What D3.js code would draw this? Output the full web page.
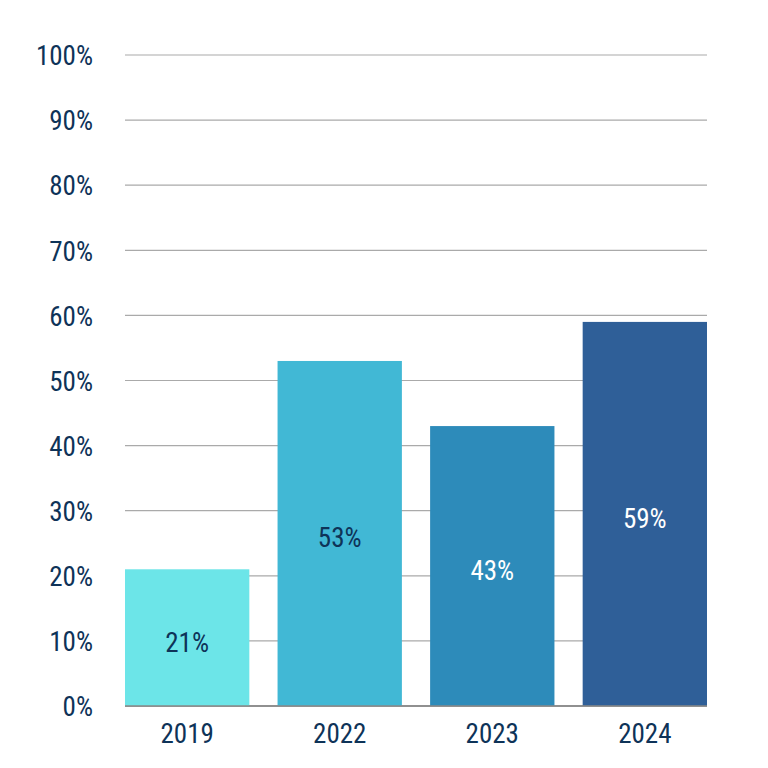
<!DOCTYPE html>
<html><head><meta charset="utf-8">
<script src="https://cdn.jsdelivr.net/npm/d3@7"></script>
<style>body{margin:0;background:#fff}svg{display:block}</style>
</head><body>
<script>
const categories = ["2019","2022","2023","2024"];
const values = [21,53,43,59];
const barColors = ["#6CE5E8","#41B8D5","#2D8BBA","#2F5F98"];
const labelColors = ["#0E3358","#0E3358","#ffffff","#ffffff"];
const yTicks = [0,10,20,30,40,50,60,70,80,90,100];

const W=768,H=768;
const m={left:125,right:61,top:55,bottom:62};
const svg=d3.select("body").append("svg").attr("width",W).attr("height",H);
const x=d3.scaleBand().domain(categories).range([m.left,W-m.right]).paddingInner(0.185).paddingOuter(0);
const y=d3.scaleLinear().domain([0,100]).range([H-m.bottom,m.top]);
const font='"Roboto Condensed","Liberation Sans Narrow","DejaVu Sans Condensed",sans-serif';
const navy="#0E3358";
const fs=27;

svg.append("g").selectAll("line").data(yTicks).join("line")
  .attr("x1",m.left).attr("x2",W-m.right)
  .attr("y1",d=>y(d)).attr("y2",d=>y(d))
  .attr("stroke",d=>d===0?"#888":"#aaa").attr("stroke-width",d=>d===0?1.5:1.2);

svg.append("g").selectAll("rect").data(values).join("rect")
  .attr("x",(d,i)=>x(categories[i])).attr("width",x.bandwidth())
  .attr("y",d=>y(d)).attr("height",d=>y(0)-y(d))
  .attr("fill",(d,i)=>barColors[i]);

svg.append("line").attr("x1",m.left).attr("x2",W-m.right).attr("y1",y(0)).attr("y2",y(0)).attr("stroke","#888").attr("stroke-width",1.5);

const yAxis=d3.axisLeft(y).tickValues(yTicks).tickFormat(d=>d+"%").tickSize(0).tickPadding(32);
const ya=svg.append("g").attr("transform",`translate(${m.left},0)`).call(yAxis);
ya.select(".domain").remove();
ya.selectAll("text").attr("font-family",font).attr("font-size",fs).attr("font-weight",400).attr("fill",navy).attr("dy","0.36em");

const xAxis=d3.axisBottom(x).tickSize(0).tickPadding(18);
const xa=svg.append("g").attr("transform",`translate(0,${y(0)})`).call(xAxis);
xa.select(".domain").remove();
xa.selectAll("text").attr("font-family",font).attr("font-size",fs).attr("font-weight",400).attr("fill",navy);

svg.append("g").selectAll("text").data(values).join("text")
  .attr("x",(d,i)=>x(categories[i])+x.bandwidth()/2)
  .attr("y",d=>(y(d)+y(0))/2+5)
  .attr("text-anchor","middle").attr("dominant-baseline","central")
  .attr("font-family",font).attr("font-size",fs).attr("font-weight",400)
  .attr("fill",(d,i)=>labelColors[i]).text(d=>d+"%");
</script>
</body></html>
